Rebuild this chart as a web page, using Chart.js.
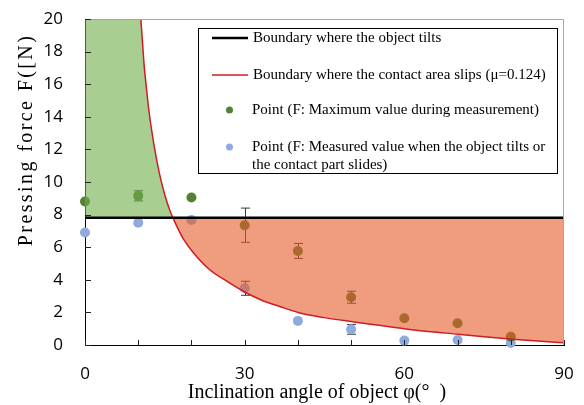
<!DOCTYPE html>
<html>
<head>
<meta charset="utf-8">
<script src="https://cdn.jsdelivr.net/npm/chart.js@4/dist/chart.umd.min.js"></script>
<style>
  html, body { margin: 0; padding: 0; background: #fff; }
  #wrap { width: 584px; height: 405px; position: relative; }
</style>
</head>
<body>
<div id="wrap"><canvas id="chart"></canvas></div>
<script>
// measured points (angle in degrees, force in N)
const angles = [0, 10, 20, 30, 40, 50, 60, 70, 80];
const maxForce = [8.8, 9.15, 9.05, 7.35, 5.77, 2.93, 1.64, 1.33, 0.51];
const maxErr = [0, 0.31, 0, 1.05, 0.46, 0.37, 0, 0, 0];
const tiltForce = [6.9, 7.5, 7.67, 3.48, 1.48, 0.96, 0.27, 0.31, 0.13];
const tiltErr = [0, 0, 0, 0.43, 0, 0.3, 0, 0, 0];

// boundary where the object tilts
const tiltAngles = [0, 90];
const tiltLevel = 7.8;

// boundary where the contact area slips (off-scale above 20)
const slipAngles = [0, 8.5, 9.5, 10.5, 10.8, 11.1, 11.5, 12, 13, 14, 15, 16, 16.6, 17.3, 18.5, 20.4, 23.5, 26.7, 30, 33, 36.7, 40.2, 45, 50.2, 55.6, 60.3, 65, 70.2, 75, 80.4, 85, 90];
const slipForce = [60, 41, 27, 20, 18.6, 17.2, 15.9, 14.4, 12.2, 10.5, 9.2, 8.2, 7.75, 7.25, 6.5, 5.65, 4.6, 3.9, 3.25, 2.78, 2.35, 1.98, 1.68, 1.43, 1.19, 0.98, 0.81, 0.66, 0.5, 0.35, 0.24, 0.14];

const xTickLabels = [0, 30, 60, 90];
const yTickLabels = [0, 2, 4, 6, 8, 10, 12, 14, 16, 18, 20];

const legendLabels = [
  'Boundary where the object tilts',
  'Boundary where the contact area slips (\u03bc=0.124)',
  'Point (F: Maximum value during measurement)',
  ['Point (F: Measured value when the object tilts or', 'the contact part slides)']
];
const xTitle = 'Inclination angle of object \u03c6(\u00b0  )';
const yTitle = 'Pressing force F([N)';

const GREEN = '#548235';
const BLUE = '#8faadc';
const RED = '#d01c24';
const serif = '"Liberation Serif", "Times New Roman", serif';

const toXY = (xs, ys) => xs.map((x, i) => ({ x: x, y: Array.isArray(ys) ? ys[i] : ys }));

// error bars, inner tick marks, frame, axis titles and the boxed legend
const extras = {
  id: 'extras',
  beforeDatasetsDraw(chart) {
    const { ctx } = chart;
    const xs = chart.scales.x, ys = chart.scales.y;
    ctx.save();
    ctx.strokeStyle = '#3a3a3a';
    ctx.lineWidth = 1;
    [[maxForce, maxErr], [tiltForce, tiltErr]].forEach(([vals, errs]) => {
      angles.forEach((a, i) => {
        if (!errs[i]) return;
        const px = Math.round(xs.getPixelForValue(a)) + 0.5;
        const top = ys.getPixelForValue(vals[i] + errs[i]);
        const bot = ys.getPixelForValue(vals[i] - errs[i]);
        ctx.beginPath();
        ctx.moveTo(px, top); ctx.lineTo(px, bot);
        ctx.moveTo(px - 4.5, top); ctx.lineTo(px + 4.5, top);
        ctx.moveTo(px - 4.5, bot); ctx.lineTo(px + 4.5, bot);
        ctx.stroke();
      });
    });
    ctx.restore();
  },
  afterDatasetsDraw(chart) {
    const { ctx, chartArea: ca } = chart;
    const xs = chart.scales.x, ys = chart.scales.y;
    ctx.save();
    ctx.lineWidth = 1;
    ctx.strokeStyle = '#a6a6a6';
    ctx.beginPath();
    ctx.moveTo(ca.left, ca.top + 0.5); ctx.lineTo(ca.right - 0.5, ca.top + 0.5);
    ctx.lineTo(ca.right - 0.5, ca.bottom);
    ctx.stroke();
    ctx.strokeStyle = '#222';
    ctx.beginPath();
    xs.ticks.forEach(t => {
      const px = Math.round(xs.getPixelForValue(t.value)) + 0.5;
      ctx.moveTo(px, ca.bottom); ctx.lineTo(px, ca.bottom - 5);
    });
    ys.ticks.forEach(t => {
      const py = Math.round(ys.getPixelForValue(t.value)) + 0.5;
      ctx.moveTo(ca.left, py); ctx.lineTo(ca.left + 6, py);
    });
    ctx.stroke();
    ctx.restore();
  },
  afterDraw(chart) {
    const { ctx } = chart;
    ctx.save();
    ctx.fillStyle = '#000';
    ctx.font = '20px ' + serif;
    ctx.textAlign = 'center';
    ctx.textBaseline = 'middle';
    ctx.fillText(xTitle, 317, 393);
    ctx.translate(27, 140);
    ctx.rotate(-Math.PI / 2);
    ctx.letterSpacing = '2.4px';
    ctx.fillText(yTitle, 0, 0);
    ctx.letterSpacing = '0px';
    ctx.restore();

    ctx.save();
    ctx.fillStyle = '#fff';
    ctx.fillRect(198, 28, 360, 145);
    ctx.strokeStyle = '#000';
    ctx.lineWidth = 1;
    ctx.strokeRect(198.5, 28.5, 359, 145);
    ctx.font = '15px ' + serif;
    ctx.textAlign = 'left';
    ctx.textBaseline = 'middle';
    const rows = [38, 75, 110, 147];
    ctx.strokeStyle = '#000';
    ctx.lineWidth = 2.5;
    ctx.beginPath(); ctx.moveTo(212, rows[0]); ctx.lineTo(248, rows[0]); ctx.stroke();
    ctx.strokeStyle = RED;
    ctx.lineWidth = 1.5;
    ctx.beginPath(); ctx.moveTo(212, rows[1]); ctx.lineTo(248, rows[1]); ctx.stroke();
    ctx.fillStyle = GREEN;
    ctx.beginPath(); ctx.arc(229.5, rows[2], 3.5, 0, Math.PI * 2); ctx.fill();
    ctx.fillStyle = BLUE;
    ctx.beginPath(); ctx.arc(229.5, rows[3], 3.5, 0, Math.PI * 2); ctx.fill();
    ctx.fillStyle = '#000';
    ctx.fillText(legendLabels[0], 253, rows[0]);
    ctx.fillText(legendLabels[1], 253, rows[1]);
    ctx.fillText(legendLabels[2], 252, rows[2]);
    ctx.fillText(legendLabels[3][0], 252, rows[3]);
    ctx.fillText(legendLabels[3][1], 252, rows[3] + 18);
    ctx.restore();
  }
};

new Chart(document.getElementById('chart'), {
  type: 'scatter',
  data: {
    datasets: [
      {
        type: 'line',
        label: 'tilt',
        data: toXY(tiltAngles, tiltLevel),
        borderColor: '#000',
        borderWidth: 2.5,
        pointRadius: 0,
        fill: false
      },
      {
        type: 'line',
        label: 'slip',
        data: toXY(slipAngles, slipForce),
        borderColor: RED,
        borderWidth: 1.5,
        pointRadius: 0,
        cubicInterpolationMode: 'monotone',
        fill: {
          target: { value: tiltLevel },
          above: 'rgba(112, 173, 71, 0.6)',
          below: 'rgba(230, 90, 40, 0.6)'
        }
      },
      {
        label: 'max',
        data: toXY(angles, maxForce),
        backgroundColor: GREEN,
        borderWidth: 0,
        pointRadius: 5,
        clip: false
      },
      {
        label: 'measured',
        data: toXY(angles, tiltForce),
        backgroundColor: BLUE,
        borderWidth: 0,
        pointRadius: 5,
        clip: false
      }
    ]
  },
  options: {
    responsive: true,
    maintainAspectRatio: false,
    animation: false,
    layout: { padding: { top: 19, right: 20, left: 0, bottom: 0 } },
    plugins: {
      legend: { display: false },
      tooltip: { enabled: false }
    },
    scales: {
      x: {
        type: 'linear',
        min: 0,
        max: 90,
        afterFit: (s) => { s.height = 60; s.paddingLeft = 0; s.paddingRight = 0; },
        grid: { display: false, drawTicks: false },
        border: { display: true, color: '#000', width: 1 },
        ticks: {
          stepSize: 10,
          padding: 19,
          color: '#000',
          font: { family: '"Open Sans", sans-serif', size: 17 },
          callback: (v) => (xTickLabels.includes(v) ? String(v) : '')
        }
      },
      y: {
        min: 0,
        max: 20,
        afterFit: (s) => { s.width = 85; s.paddingTop = 0; s.paddingBottom = 0; },
        grid: { display: false, drawTicks: false },
        border: { display: true, color: '#000', width: 1 },
        ticks: {
          stepSize: 2,
          padding: 22,
          color: '#000',
          font: { family: '"Open Sans", sans-serif', size: 17 },
          callback: (v) => (yTickLabels.includes(v) ? String(v) : '')
        }
      }
    }
  },
  plugins: [extras]
});
</script>
</body>
</html>
